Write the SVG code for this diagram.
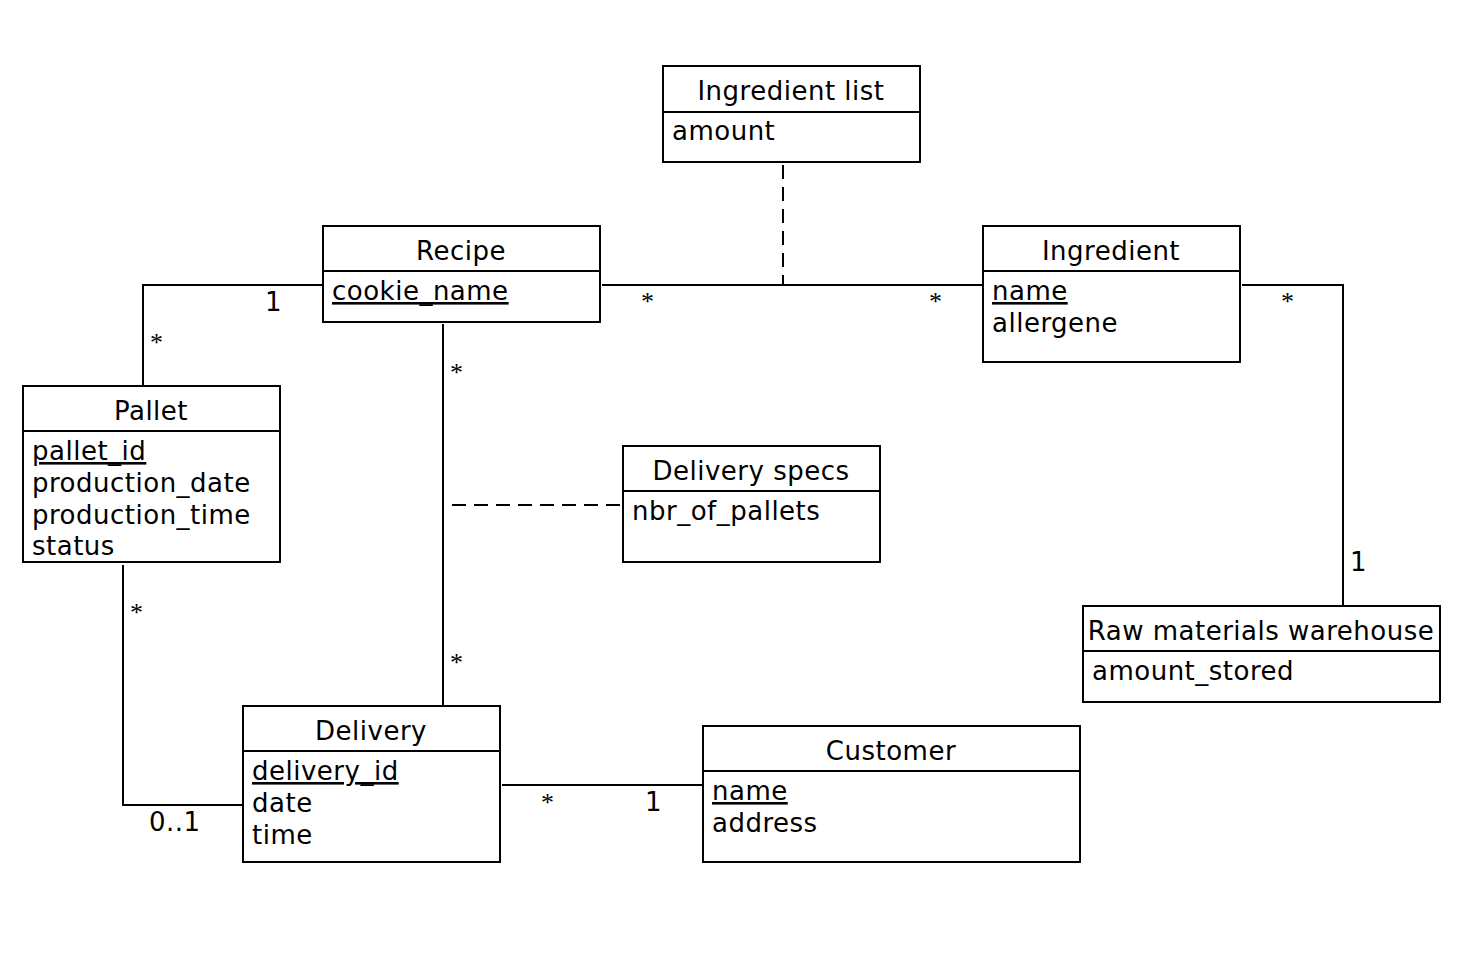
<svg xmlns="http://www.w3.org/2000/svg" width="1484" height="978" viewBox="0 0 1484 978">
<style>
.box{fill:#fff;stroke:#000;stroke-width:2}
.div{stroke:#000;stroke-width:2}
.t{font-family:"DejaVu Sans",sans-serif;font-size:26px;letter-spacing:0.5px;fill:#000}
.c{text-anchor:middle}
.u{text-decoration:underline}
.ln{fill:none;stroke:#000;stroke-width:2}
.dash{fill:none;stroke:#000;stroke-width:2;stroke-dasharray:14 8}
.m{font-family:"DejaVu Sans",sans-serif;font-size:26px;letter-spacing:0.5px;fill:#000}
.s{font-family:"Liberation Serif",serif;font-size:26px;fill:#000}
</style>
<rect width="1484" height="978" fill="#fff"/>
<g id="connectors">
<line class="ln" x1="602" y1="285" x2="983" y2="285"/>
<line class="dash" x1="783" y1="165" x2="783" y2="285"/>
<polyline class="ln" points="143,386 143,285 323,285"/>
<line class="ln" x1="443" y1="324" x2="443" y2="706"/>
<line class="dash" x1="452" y1="505" x2="623" y2="505"/>
<polyline class="ln" points="1242,285 1343,285 1343,606"/>
<polyline class="ln" points="123,565 123,805 243,805"/>
<line class="ln" x1="502" y1="785" x2="703" y2="785"/>
<text class="s" x="641" y="310">*</text>
<text class="s" x="929" y="310">*</text>
<text class="m" x="265" y="311">1</text>
<text class="s" x="150" y="351">*</text>
<text class="s" x="450" y="381">*</text>
<text class="s" x="450" y="671">*</text>
<text class="s" x="1281" y="310">*</text>
<text class="m" x="1350" y="571">1</text>
<text class="s" x="130" y="621">*</text>
<text class="m" x="149" y="831">0..1</text>
<text class="s" x="541" y="811">*</text>
<text class="m" x="645" y="811">1</text>
</g>
<g id="ingredient-list">
<rect class="box" x="663" y="66" width="257" height="96"/>
<line class="div" x1="663" y1="112" x2="920" y2="112"/>
<text class="t c" x="791" y="100">Ingredient list</text>
<text class="t" x="672" y="140">amount</text>
</g>
<g id="recipe">
<rect class="box" x="323" y="226" width="277" height="96"/>
<line class="div" x1="323" y1="271" x2="600" y2="271"/>
<text class="t c" x="461" y="260">Recipe</text>
<text class="t u" x="332" y="300">cookie_name</text>
</g>
<g id="ingredient">
<rect class="box" x="983" y="226" width="257" height="136"/>
<line class="div" x1="983" y1="271" x2="1240" y2="271"/>
<text class="t c" x="1111" y="260">Ingredient</text>
<text class="t u" x="992" y="300">name</text>
<text class="t" x="992" y="332">allergene</text>
</g>
<g id="pallet">
<rect class="box" x="23" y="386" width="257" height="176"/>
<line class="div" x1="23" y1="431" x2="280" y2="431"/>
<text class="t c" x="151" y="420">Pallet</text>
<text class="t u" x="32" y="460">pallet_id</text>
<text class="t" x="32" y="492">production_date</text>
<text class="t" x="32" y="524">production_time</text>
<text class="t" x="32" y="555">status</text>
</g>
<g id="delivery-specs">
<rect class="box" x="623" y="446" width="257" height="116"/>
<line class="div" x1="623" y1="491" x2="880" y2="491"/>
<text class="t c" x="751" y="480">Delivery specs</text>
<text class="t" x="632" y="520">nbr_of_pallets</text>
</g>
<g id="raw-materials-warehouse">
<rect class="box" x="1083" y="606" width="357" height="96"/>
<line class="div" x1="1083" y1="651" x2="1440" y2="651"/>
<text class="t c" x="1261" y="640">Raw materials warehouse</text>
<text class="t" x="1092" y="680">amount_stored</text>
</g>
<g id="delivery">
<rect class="box" x="243" y="706" width="257" height="156"/>
<line class="div" x1="243" y1="751" x2="500" y2="751"/>
<text class="t c" x="371" y="740">Delivery</text>
<text class="t u" x="252" y="780">delivery_id</text>
<text class="t" x="252" y="812">date</text>
<text class="t" x="252" y="844">time</text>
</g>
<g id="customer">
<rect class="box" x="703" y="726" width="377" height="136"/>
<line class="div" x1="703" y1="771" x2="1080" y2="771"/>
<text class="t c" x="891" y="760">Customer</text>
<text class="t u" x="712" y="800">name</text>
<text class="t" x="712" y="832">address</text>
</g>
</svg>
